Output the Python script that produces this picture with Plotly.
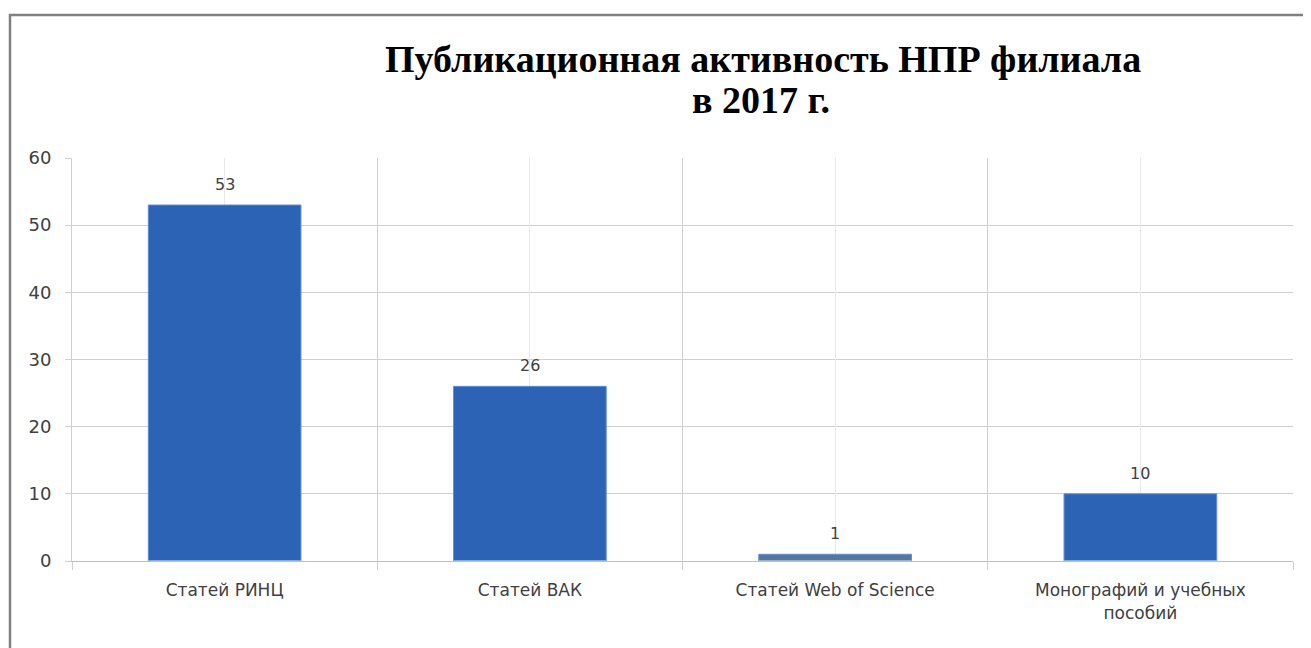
import plotly.graph_objects as go

categories = ["Статей РИНЦ", "Статей ВАК", "Статей Web of Science", "Монографий и учебных<br>пособий"]
values = [53, 26, 1, 10]
bar_colors = ["#2c63b5", "#2c63b5", "#56779b", "#2c63b5"]
title_line1 = "<b>Публикационная активность НПР филиала</b>"
title_line2 = "<b>в 2017 г.</b>"

# page body has an 8px margin, so the figure is placed at (8, 8)
OFF = 8
W, H = 1311 - 2 * OFF, 648 - OFF
L, R, T, B = 64, 10, 150, 87

fig = go.Figure()
fig.add_trace(go.Bar(
    x=categories, y=values,
    marker=dict(color=bar_colors, line=dict(color="#5d8fd6", width=1)),
    hoverinfo="x+y", width=0.5,
))
# invisible trace on overlay axis for centre gridlines
fig.add_trace(go.Bar(x=categories, y=[0] * len(categories), xaxis="x2",
                     marker=dict(color="rgba(0,0,0,0)"), hoverinfo="skip", showlegend=False))

pw = W - L - R
ph = H - T - B

annotations = [
    dict(x=c, y=v, xref="x", yref="y", text=str(v), showarrow=False,
         yanchor="bottom", yshift=9,
         font=dict(family="DejaVu Sans", size=16, color="#404040"))
    for c, v in zip(categories, values)
]
annotations.append(dict(text=title_line1, xref="paper", yref="paper",
                        x=(763 - OFF - L) / pw, y=1 + (T - (59 - OFF)) / ph,
                        xanchor="center", yanchor="middle", showarrow=False,
                        font=dict(family="Liberation Serif", size=38, color="#000000")))
annotations.append(dict(text=title_line2, xref="paper", yref="paper",
                        x=(761 - OFF - L) / pw, y=1 + (T - (100 - OFF)) / ph,
                        xanchor="center", yanchor="middle", showarrow=False,
                        font=dict(family="Liberation Serif", size=38, color="#000000")))

fig.update_layout(
    width=W, height=H,
    margin=dict(l=L, r=R, t=T, b=B),
    paper_bgcolor="white", plot_bgcolor="white",
    showlegend=False,
    annotations=annotations,
    xaxis=dict(type="category", tickson="boundaries", showgrid=True, gridcolor="#d0d0d0", gridwidth=1,
               showline=True, linecolor="#bfbfbf", linewidth=1,
               ticks="outside", ticklen=8, tickcolor="#d0d0d0",
               ticklabelstandoff=14,
               tickfont=dict(family="DejaVu Sans", size=17, color="#404040"),
               layer="below traces", range=[-0.5, 3.5]),
    xaxis2=dict(type="category", overlaying="x", matches="x", showgrid=True, gridcolor="#e8e8e8",
                showticklabels=False, ticks="", showline=False, layer="below traces"),
    yaxis=dict(range=[0, 60], dtick=10, showgrid=True, gridcolor="#d0d0d0", gridwidth=1,
               showline=True, linecolor="#d0d0d0", linewidth=1,
               ticks="outside", ticklen=6, tickcolor="#d0d0d0",
               ticklabelstandoff=10,
               tickfont=dict(family="DejaVu Sans", size=18, color="#404040"),
               zeroline=False),
    bargap=0.5,
    shapes=[dict(type="rect", xref="paper", yref="paper",
                 x0=(10 - OFF - L) / pw, x1=(1340 - OFF - L) / pw,
                 y0=(561 - 680) / ph, y1=(561 - 15) / ph,
                 line=dict(color="#808080", width=2.5), fillcolor="rgba(0,0,0,0)", layer="below")],
)

fig.write_html("out.html")
